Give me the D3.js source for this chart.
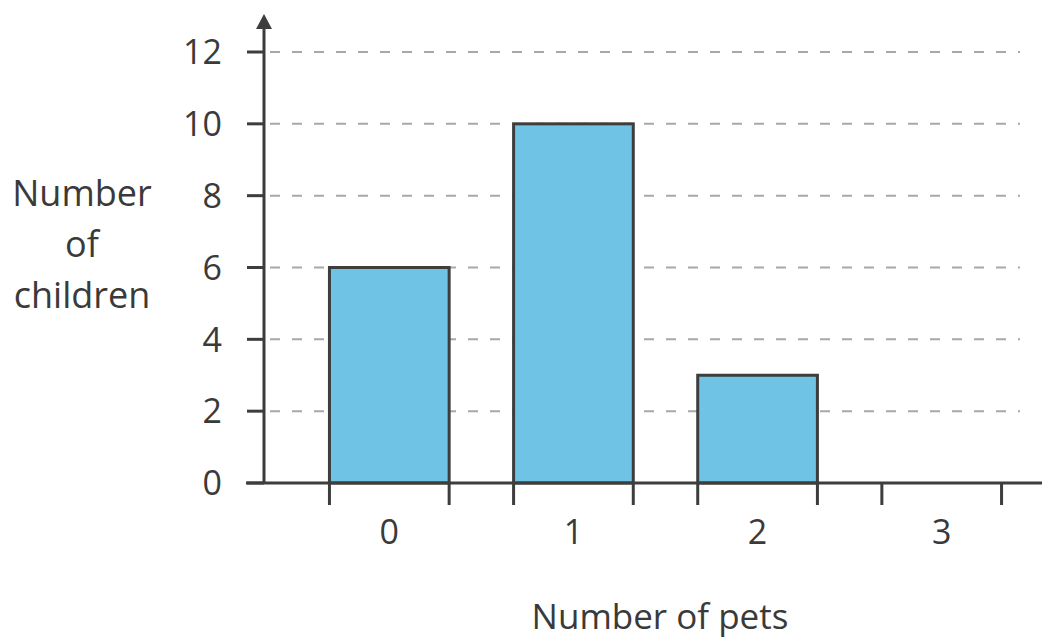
<!DOCTYPE html>
<html>
<head>
<meta charset="utf-8">
<script src="https://cdn.jsdelivr.net/npm/d3@7"></script>
<style>
  body { margin: 0; background: #fff; }
  svg text { font-family: "Open Sans", "Noto Sans", sans-serif; fill: #3a3a3a; }
</style>
</head>
<body>
<div id="chart"></div>
<script>
// data
var pets = ["0", "1", "2", "3"];
var children = [6, 10, 3, 0];
var yTicks = [0, 2, 4, 6, 8, 10, 12];

var width = 1042, height = 639;
var svg = d3.select("#chart").append("svg")
	.attr("width", width)
	.attr("height", height);

var axisX = 264, baseY = 483;

var x = d3.scaleBand().domain(pets).range([265, 1066]).padding(0.35);
var y = d3.scaleLinear().domain([0, 12]).range([baseY, 52]);

// dashed grid
svg.selectAll(".grid")
	.data(yTicks.filter(function(d) { return d > 0; }))
	.enter()
	.append("line")
		.attr("class", "grid")
		.attr("x1", 270)
		.attr("x2", 1020)
		.attr("y1", function(d) { return y(d); })
		.attr("y2", function(d) { return y(d); })
		.style("stroke", "#a8a8a8")
		.style("stroke-width", 2)
		.style("stroke-dasharray", "10,12");

// bars
svg.selectAll(".bar")
	.data(pets)
	.enter()
	.append("rect")
		.attr("class", "bar")
		.attr("x", function(d) { return x(d); })
		.attr("y", function(d, i) { return y(children[i]); })
		.attr("width", x.bandwidth())
		.attr("height", function(d, i) { return baseY - y(children[i]); })
		.style("fill", "#6fc3e4")
		.style("stroke", "#3d3d3d")
		.style("stroke-width", 3);

// y axis with arrow
svg.append("line")
	.attr("x1", axisX).attr("x2", axisX)
	.attr("y1", baseY).attr("y2", 26)
	.style("stroke", "#3d3d3d")
	.style("stroke-width", 3);
svg.append("path")
	.attr("d", "M" + axisX + ",14 L" + (axisX - 8) + ",29 L" + (axisX + 8) + ",29 Z")
	.style("fill", "#3d3d3d");

svg.selectAll(".ytick")
	.data(yTicks)
	.enter()
	.append("line")
		.attr("class", "ytick")
		.attr("x1", 247).attr("x2", axisX)
		.attr("y1", function(d) { return y(d); })
		.attr("y2", function(d) { return y(d); })
		.style("stroke", "#3d3d3d")
		.style("stroke-width", 3);

svg.selectAll(".ylab")
	.data(yTicks)
	.enter()
	.append("text")
		.attr("class", "ylab")
		.attr("x", 222)
		.attr("y", function(d) { return y(d); })
		.attr("dy", "0.36em")
		.style("text-anchor", "end")
		.style("font-size", "34px")
		.text(function(d) { return d; });

// x axis
svg.append("line")
	.attr("x1", 246).attr("x2", width)
	.attr("y1", baseY).attr("y2", baseY)
	.style("stroke", "#3d3d3d")
	.style("stroke-width", 3);

var edges = [];
pets.forEach(function(d) { edges.push(x(d), x(d) + x.bandwidth()); });
svg.selectAll(".xtick")
	.data(edges)
	.enter()
	.append("line")
		.attr("class", "xtick")
		.attr("x1", function(d) { return d; })
		.attr("x2", function(d) { return d; })
		.attr("y1", baseY).attr("y2", 505)
		.style("stroke", "#3d3d3d")
		.style("stroke-width", 3);

svg.selectAll(".xlab")
	.data(pets)
	.enter()
	.append("text")
		.attr("class", "xlab")
		.attr("x", function(d) { return x(d) + x.bandwidth() / 2; })
		.attr("y", 532)
		.attr("dy", "0.36em")
		.style("text-anchor", "middle")
		.style("font-size", "34px")
		.text(function(d) { return d; });

// axis titles
svg.append("text")
	.attr("x", 660)
	.attr("y", 616)
	.attr("dy", "0.36em")
	.style("text-anchor", "middle")
	.style("font-size", "35px")
	.text("Number of pets");

var yTitle = svg.append("text")
	.attr("x", 82)
	.attr("y", 193)
	.style("text-anchor", "middle")
	.style("font-size", "36px");
["Number", "of", "children"].forEach(function(t, i) {
	yTitle.append("tspan")
		.attr("x", 82)
		.attr("dy", i === 0 ? "0.36em" : "1.42em")
		.text(t);
});
</script>
</body>
</html>
